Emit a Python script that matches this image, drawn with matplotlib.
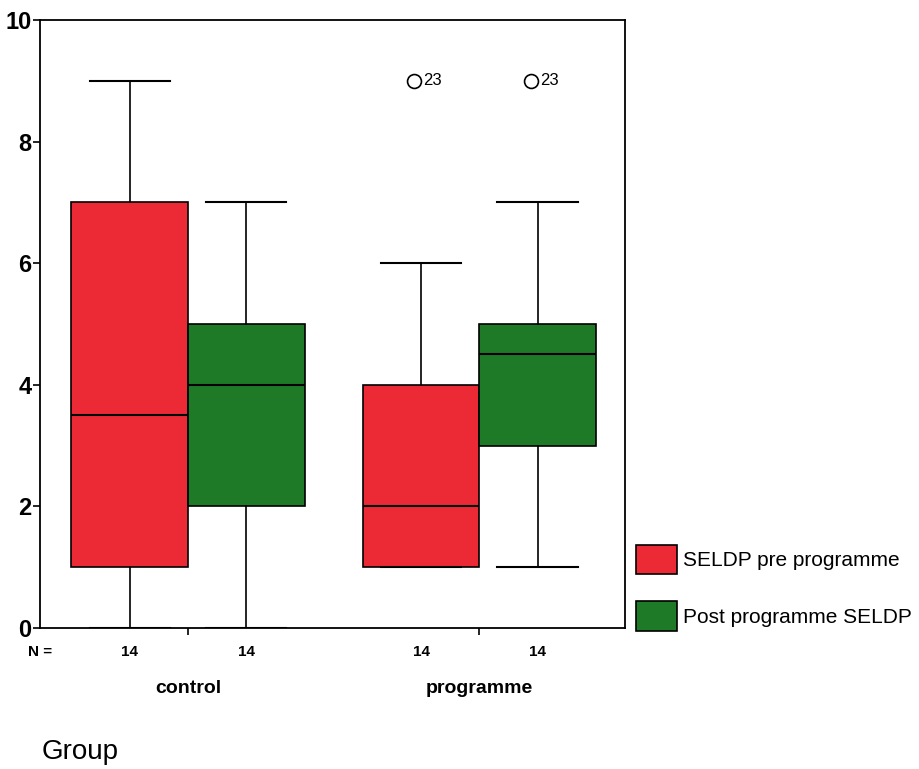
import matplotlib.pyplot as plt
import matplotlib.transforms as mtransforms
from matplotlib.patches import Patch

plt.rcParams['font.family'] = ['Liberation Sans', 'DejaVu Sans']

groups = ['control', 'programme']
series = ['SELDP pre programme', 'Post programme SELDP']
colors = ['#ec2a36', '#1f7a28']

# five-number summaries, order: control pre, control post, programme pre, programme post
whislo = [0, 0, 1, 1]
q1 = [1, 2, 1, 3]
med = [3.5, 4, 2, 4.5]
q3 = [7, 5, 4, 5]
whishi = [9, 7, 6, 7]
fliers = [[], [], [9], [9]]
flier_ids = [[], [], ['23'], ['23']]
n_cases = [14, 14, 14, 14]

positions = [0, 1, 2.5, 3.5]
group_pos = [0.5, 3.0]

stats = []
for i in range(4):
    stats.append(dict(whislo=whislo[i], q1=q1[i], med=med[i], q3=q3[i],
                      whishi=whishi[i], fliers=fliers[i]))

fig = plt.figure(figsize=(9.2, 7.69), dpi=100)
ax = fig.add_axes([40 / 920, 1 - 628 / 769, 585 / 920, 608 / 769])

bp = ax.bxp(stats, positions=positions, widths=1.0, patch_artist=True,
            showfliers=False,
            boxprops=dict(edgecolor='black', linewidth=1.2),
            medianprops=dict(color='black', linewidth=1.5),
            whiskerprops=dict(color='black', linewidth=1.2),
            capprops=dict(color='black', linewidth=1.5),
            capwidths=0.69)
for i, box in enumerate(bp['boxes']):
    box.set_facecolor(colors[i % 2])

# outliers drawn as open circles with case numbers
for i in range(4):
    for v, lab in zip(fliers[i], flier_ids[i]):
        ax.plot(positions[i] - 0.06, v, 'o', mfc='none', mec='black', ms=10, mew=1.2)
        ax.text(positions[i] + 0.02, v, lab, fontsize=12, va='center', ha='left')

ax.set_xlim(-0.77, 4.25)
ax.set_ylim(0, 10)
ax.set_yticks([0, 2, 4, 6, 8, 10])
ax.set_yticklabels(['0', '2', '4', '6', '8', '10'], fontsize=17, fontweight='bold')
ax.set_xticks(group_pos)
ax.set_xticklabels([])
ax.tick_params(axis='both', direction='out', length=5, width=1.2)
ax.tick_params(axis='y', pad=1)
for s in ax.spines.values():
    s.set_linewidth(1.3)

trans = mtransforms.blended_transform_factory(ax.transData, ax.transAxes)
ax.text(-0.77, -0.039, 'N =', transform=trans, ha='center', va='center',
        fontsize=11, fontweight='bold')
for p, n in zip(positions, n_cases):
    ax.text(p, -0.039, str(n), transform=trans, ha='center', va='center',
            fontsize=11, fontweight='bold')
for p, g in zip(group_pos, groups):
    ax.text(p, -0.099, g, transform=trans, ha='center', va='center',
            fontsize=14, fontweight='bold')

fig.text(42 / 920, 1 - 752 / 769, 'Group', fontsize=20, ha='left', va='center')

handles = [Patch(facecolor=c, edgecolor='black', linewidth=1.2) for c in colors]
fig.legend(handles, series, loc='upper left', bbox_to_anchor=(619 / 920, 1 - 528 / 769),
           frameon=False, fontsize=15, handlelength=2.0, handleheight=1.8,
           handletextpad=0.25, labelspacing=1.3, borderpad=0.3)

fig.savefig('out.png', dpi=100)
